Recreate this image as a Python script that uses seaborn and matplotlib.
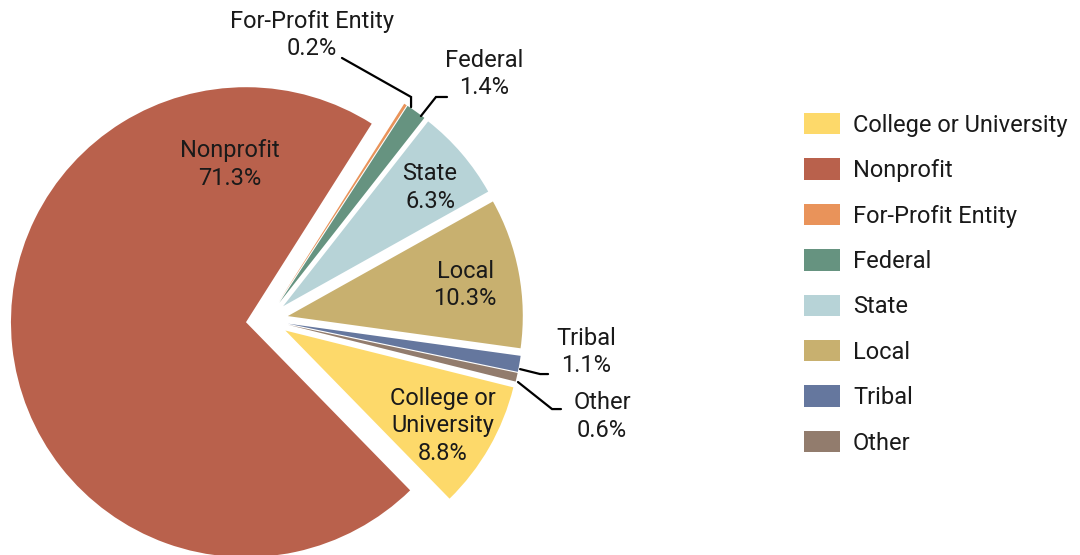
import numpy as np
import matplotlib
matplotlib.use('Agg')
import matplotlib.pyplot as plt
import seaborn as sns

# data (percent of grantees by type)
categories = ['College or University', 'Nonprofit', 'For-Profit Entity', 'Federal',
              'State', 'Local', 'Tribal', 'Other']
shares = [8.8, 71.3, 0.2, 1.4, 6.3, 10.3, 1.1, 0.6]
pie_labels = ['College or\nUniversity\n8.8%', 'Nonprofit\n71.3%', 'For-Profit Entity\n0.2%',
              'Federal\n1.4%', 'State\n6.3%', 'Local\n10.3%', 'Tribal\n1.1%', 'Other\n0.6%']
colors = ['#FDD96A', '#B9614C', '#E9935A', '#669380', '#B7D3D7', '#C8B06F', '#65779E', '#927C6D']

sns.set_theme(style='white')
plt.rcParams['font.family'] = ['Roboto', 'DejaVu Sans']
txt_color = '#1a1a1a'
fs = 17

fig = plt.figure(figsize=(10.8, 5.55), dpi=100)
# square axes, pie centre at (267, 320) px, radius 235 px
ax = fig.add_axes([-15 / 1080, -47 / 555, 564 / 1080, 564 / 555])
pal = sns.color_palette(colors)
expl = 0.09
wedges, _ = ax.pie(shares, colors=pal, startangle=-14, counterclock=False,
                   explode=[expl] * len(shares), wedgeprops=dict(linewidth=0))
ax.set_xlim(-1.2, 1.2)
ax.set_ylim(-1.2, 1.2)
ax.set_aspect('equal')
ax.axis('off')

# labels inside the big slices
inside = {0: (0.749, -0.451), 1: (-0.157, 0.66), 4: (0.694, 0.562), 5: (0.843, 0.149)}
for i, (x, y) in inside.items():
    ax.text(x, y, pie_labels[i], ha='center', va='center', fontsize=fs,
            color=txt_color, linespacing=1.27)

# small slices: text outside with a leader line
outside = {
    2: ((0.192, 1.213), [(0.319, 1.115), (0.613, 0.949), (0.613, 0.906)]),
    3: ((0.923, 1.047), [(0.766, 0.949), (0.719, 0.949), (0.655, 0.868)]),
    6: ((1.357, -0.136), [(1.196, -0.230), (1.162, -0.230), (1.077, -0.209)]),
    7: ((1.426, -0.409), [(1.251, -0.379), (1.213, -0.379), (1.068, -0.264)]),
}
for i, ((x, y), path) in outside.items():
    ax.text(x, y, pie_labels[i], ha='center', va='center', fontsize=fs,
            color=txt_color, linespacing=1.27)
    px, py = zip(*path)
    ax.plot(px, py, color='black', lw=1.6, clip_on=False, solid_joinstyle='miter')

leg = fig.legend(wedges, categories, loc='upper left', bbox_to_anchor=(804 / 1080, 1 - 113 / 555),
                 frameon=False, fontsize=fs, handlelength=1.53, handleheight=1.02,
                 handletextpad=0.55, labelspacing=0.915, borderpad=0, borderaxespad=0)
for t in leg.get_texts():
    t.set_color(txt_color)

fig.savefig('out.png', dpi=100, facecolor='white')
